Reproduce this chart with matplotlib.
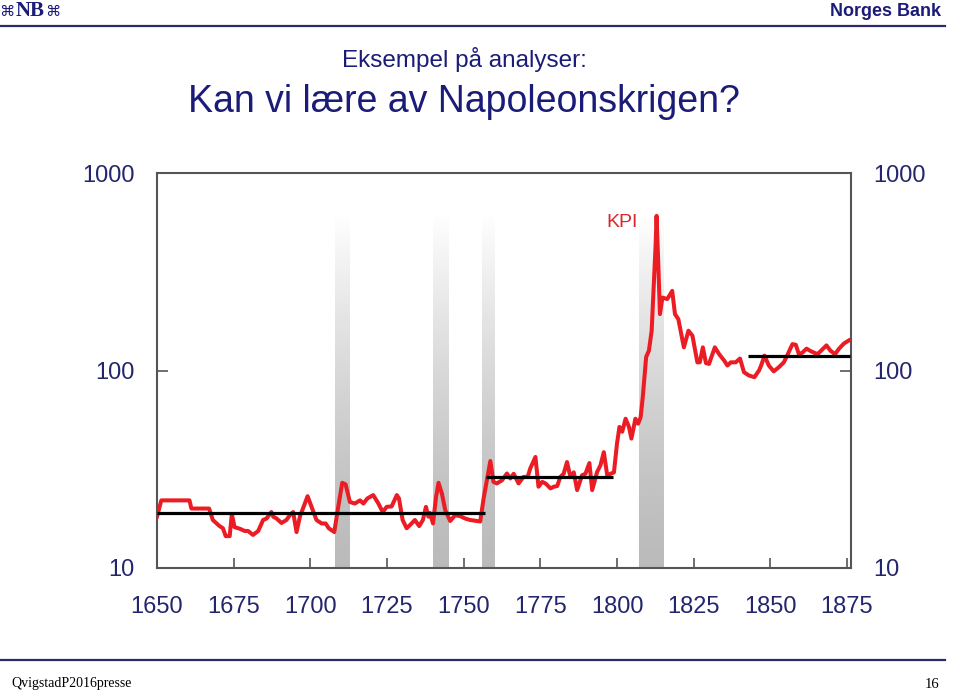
import matplotlib

matplotlib.use("Agg")

import matplotlib.pyplot as plt
import numpy as np

plt.rcParams["font.family"] = ["Liberation Sans", "DejaVu Sans"]

NAVY = "#1b1b78"
TICK_NAVY = "#23266c"
RED = "#ec1c24"

# consumer price index (log scale)
years = [
    1650.0, 1651.4, 1660.6, 1661.2, 1667.0, 1668.2, 1670.4, 1671.5, 1672.4, 1673.7,
    1674.4, 1675.3, 1677.0, 1678.6, 1679.7, 1681.3, 1683.0, 1684.6, 1685.7, 1687.3,
    1687.9, 1689.0, 1690.6, 1692.2, 1693.3, 1694.4, 1695.5, 1696.6, 1698.2, 1699.1,
    1700.4, 1702.0, 1703.7, 1705.0, 1706.0, 1707.8, 1709.1, 1710.4, 1711.5, 1712.9,
    1714.5, 1716.2, 1717.3, 1718.6, 1720.5, 1722.2, 1723.6, 1724.9, 1726.5, 1728.2,
    1728.9, 1730.1, 1731.4, 1732.5, 1734.1, 1735.5, 1736.7, 1737.7, 1738.5, 1739.0,
    1740.0, 1741.0, 1741.8, 1742.9, 1744.0, 1745.6, 1747.2, 1748.9, 1750.5, 1752.1,
    1755.4, 1756.5, 1758.7, 1759.7, 1760.8, 1762.5, 1764.1, 1765.2, 1766.3, 1767.9,
    1769.5, 1770.9, 1771.7, 1773.4, 1774.4, 1775.6, 1776.7, 1778.3, 1779.4, 1780.5,
    1781.5, 1782.6, 1783.7, 1784.8, 1785.9, 1787.0, 1788.6, 1789.7, 1791.0, 1791.9,
    1793.5, 1794.6, 1795.7, 1796.8, 1797.9, 1799.0, 1800.0, 1800.8, 1801.7, 1802.8,
    1803.9, 1804.7, 1806.0, 1806.9, 1807.7, 1808.4, 1809.5, 1810.4, 1811.3, 1812.0,
    1812.6, 1812.9, 1813.5, 1814.0, 1814.8, 1816.4, 1818.0, 1818.9, 1820.0, 1821.8,
    1823.3, 1824.6, 1825.1, 1826.2, 1827.0, 1828.0, 1829.0, 1830.0, 1831.9, 1833.3,
    1835.0, 1836.0, 1837.1, 1838.7, 1840.1, 1841.4, 1843.0, 1844.8, 1846.3, 1847.0,
    1848.1, 1849.5, 1851.1, 1852.8, 1854.4, 1855.7, 1857.2, 1858.3, 1859.3, 1860.4,
    1861.8, 1863.3, 1865.4, 1866.8, 1868.3, 1869.6, 1871.1, 1872.4, 1874.0, 1875.6,
]
kpi = [
    18.2, 22.0, 22.0, 20.0, 20.0, 17.5, 16.3, 15.9, 14.5, 14.5,
    18.7, 16.1, 15.8, 15.4, 15.4, 14.7, 15.4, 17.5, 17.8, 19.2,
    18.2, 17.8, 16.9, 17.5, 18.5, 19.2, 15.2, 18.2, 21.2, 23.1,
    20.4, 17.5, 16.8, 16.8, 15.9, 15.2, 20.4, 27.0, 26.5, 21.6,
    21.2, 22.0, 21.2, 22.5, 23.4, 21.2, 19.2, 20.4, 20.5, 23.4,
    22.5, 17.5, 15.9, 16.5, 17.5, 16.3, 17.5, 20.4, 18.2, 19.0,
    16.8, 22.9, 27.0, 23.8, 19.6, 17.3, 18.5, 18.3, 17.8, 17.5,
    17.2, 22.5, 34.8, 27.3, 26.8, 27.8, 30.1, 28.4, 30.0, 26.8,
    28.9, 29.0, 31.9, 36.5, 25.8, 27.3, 26.8, 25.3, 25.8, 26.0,
    28.9, 30.0, 34.4, 28.9, 30.5, 24.8, 29.5, 30.0, 34.0, 24.8,
    30.6, 33.1, 38.6, 29.5, 30.0, 30.5, 42.7, 51.8, 49.0, 57.0,
    51.8, 45.2, 57.0, 53.8, 58.0, 73.3, 117, 126, 159, 274,
    436, 607, 333, 193, 234, 230, 253, 193, 182, 131,
    159, 150, 136, 110, 110, 131, 109, 108, 131, 121,
    112, 106, 110, 110, 115, 98, 94.4, 92.5, 100, 106,
    119, 106, 99, 104, 110, 121, 136, 135, 121, 123,
    129, 125, 121, 127, 134, 126, 121, 129, 137, 142,
]

# period averages (black lines)
avg_start = [1650.0, 1757.3, 1842.7]
avg_end = [1757.0, 1798.8, 1876.0]
avg_level = [19.0, 28.9, 119.0]

# war periods (grey shading)
war_start = [1708.2, 1740.1, 1756.0, 1807.1]
war_end = [1713.1, 1745.6, 1760.5, 1815.5]

x_ticks = [1650, 1675, 1700, 1725, 1750, 1775, 1800, 1825, 1850, 1875]
y_ticks = [10, 100, 1000]
y_labels = ["10", "100", "1000"]

fig = plt.figure(figsize=(9.59, 6.92), dpi=100)
fig.patch.set_facecolor("white")

# slide header / footer
fig.add_artist(plt.Line2D([0.0, 0.985], [1 - 26 / 692] * 2, color="#2b2b6b", lw=1.6))
fig.add_artist(plt.Line2D([0.0, 0.985], [1 - 660 / 692] * 2, color="#2b2b6b", lw=1.6))
fig.text(0.031, 1 - 11 / 692, "NB", color=NAVY, fontsize=15, fontweight="bold",
         family=["Liberation Serif"], ha="center", va="center")
fig.text(0.0155, 1 - 11 / 692, "\u2318", color=NAVY, fontsize=11,
         family=["DejaVu Sans"], ha="right", va="center")
fig.text(0.0475, 1 - 11 / 692, "\u2318", color=NAVY, fontsize=11,
         family=["DejaVu Sans"], ha="left", va="center")
fig.text(0.981, 1 - 11 / 692, "Norges Bank", color=NAVY, fontsize=13,
         fontweight="bold", ha="right", va="center")
fig.text(0.484, 1 - 60 / 692, "Eksempel p\u00e5 analyser:", color=NAVY,
         fontsize=17.5, ha="center", va="center")
fig.text(0.484, 1 - 102 / 692, "Kan vi l\u00e6re av Napoleonskrigen?", color=NAVY,
         fontsize=27, ha="center", va="center")
fig.text(0.012, 1 - 684 / 692, "QvigstadP2016presse", color="black", fontsize=10,
         family=["Liberation Serif"], ha="left", va="center")
fig.text(0.98, 1 - 684 / 692, "16", color="black", fontsize=10.5,
         family=["Liberation Serif"], ha="right", va="center")

ax = fig.add_axes([157 / 959, 124 / 692, 694 / 959, 395 / 692])
ax.set_yscale("log")

# grey gradient bars for war periods
shade = np.linspace(0, 1, 256) ** 1.4
gradient = (0.73 + 0.27 * shade).reshape(-1, 1)
for start, end in zip(war_start, war_end):
    ax.imshow(gradient, cmap="gray", vmin=0, vmax=1, origin="lower", aspect="auto",
              extent=(start, end, 0, 0.9), transform=ax.get_xaxis_transform(),
              interpolation="bilinear", zorder=1)

ax.plot(years, kpi, color=RED, lw=2.9, solid_joinstyle="round", zorder=3)
ax.hlines(avg_level, avg_start, avg_end, color="black", lw=2.3, zorder=4)
ax.text(1801.5, 560, "KPI", color="#d8262c", fontsize=14, ha="center", va="center")

ax.set_xlim(1650, 1876.3)
ax.set_ylim(10, 1000)
ax.set_xticks(x_ticks)
ax.set_yticks(y_ticks)
ax.set_yticklabels(y_labels)
ax.minorticks_off()
ax.tick_params(axis="x", direction="in", length=7, width=1.2, color="#555555",
               labelsize=17, labelcolor=TICK_NAVY, pad=20)
ax.tick_params(axis="y", direction="in", length=8, width=1.2, color="#555555",
               labelsize=17, labelcolor=TICK_NAVY, pad=16, right=True, labelright=True)
for spine in ax.spines.values():
    spine.set_color("#555555")
    spine.set_linewidth(1.5)

fig.savefig("out.png", dpi=100)
